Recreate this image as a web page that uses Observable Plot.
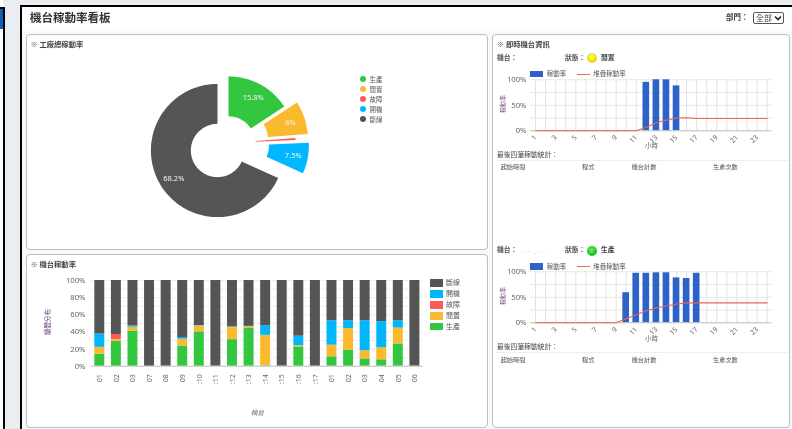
<!DOCTYPE html>
<html lang="zh-Hant"><head><meta charset="utf-8">
<script src="https://cdn.jsdelivr.net/npm/d3@7"></script>
<script src="https://cdn.jsdelivr.net/npm/@observablehq/plot@0.6"></script>
<style>
html,body{margin:0;padding:0;width:792px;height:429px;overflow:hidden;background:#fff}
#root{position:relative;width:792px;height:429px;overflow:hidden;background:#eaeef3;font-family:"Noto Sans CJK TC","Noto Sans",sans-serif;color:#333;filter:blur(.35px)}
#root>div{position:absolute}
.a{white-space:nowrap;line-height:1}
.card{box-sizing:border-box;background:#fff;border:1px solid #bdbdbd;border-radius:4px}
svg{overflow:visible;background:transparent!important}
.v{transform:translate(-50%,-50%) rotate(-90deg)}
</style></head><body><div id="root"></div>
<script>
// ---- data ----
const statuses = ["生產","閒置","故障","開機","斷線"];
const statusColors = ["#33c63f","#fbb92e","#fd5a5a","#00b7ff","#555555"];
const overallShare = [15.8, 8, 0.5, 7.5, 68.2];
const shareLabels = ["15.8%","8%","","7.5%","68.2%"];
const explodeX = [0.165,0.356,0.173,0.372,0];
const explodeY = [0.113,0.174,0.113,0.072,0];

const machines = ["01","02","03","07","08","09",":10",":11",":12",":13",":14",":15",":16",":17","01","02","03","04","05","06"];
const production = [14,29,41,0,0,23.5,40,0,31,44,0.5,0,22.5,0,11,18.5,8.5,7.5,26,0];
const idle       = [8,2,4.5,0,0,8,7,0,14.5,2,35.5,0,1.5,0,13.5,25.5,9.5,14,18.5,0];
const fault      = [0,6,0,0,0,0,0,0,0,0,0,0,0,0,0,0,0,0,0,0];
const standby    = [15.5,0,1.5,0,0,2,0.5,0,0.5,0.5,11,0,11,0,28.5,9,35,30.5,8.5,0];
const offline    = [62.5,63,53,100,100,66.5,52.5,100,54,53.5,53,100,65,100,47,47,47,48,47,100];

const hours = d3.range(1,25);
const hourTicks = [1,3,5,7,9,11,13,15,17,19,21,23];
const rateA = [0,0,0,0,0,0,0,0,0,0,0,95,100,100,88,0,0,0,0,0,0,0,0,0];
const cumA  = [0,0,0,0,0,0,0,0,0,0,0,7,15.7,21,25,25.5,24,24,24,24,24,24,24,24];
const rateB = [0,0,0,0,0,0,0,0,0,59,97,97,98,98,88,87,97,0,0,0,0,0,0,0];
const cumB  = [0,0,0,0,0,0,0,0,0,8,16,23.5,29,33,37,39,39,39,39,39,39,39,39,39];
const tableHeads = ["起始時間","程式","機台計數","生產次數"];

// ---- page helpers ----
const root = document.getElementById("root");
function box(css,cls){const e=document.createElement("div");if(cls)e.className=cls;e.style.cssText=css;root.appendChild(e);return e}
function txt(s,x,y,size,extra=""){const e=box(`left:${x}px;top:${y-size/2-.5}px;font-size:${size}px;${extra}`,"a");e.textContent=s;return e}
function vtxt(s,x,y,size,color){const e=box(`left:${x}px;top:${y}px;font-size:${size}px;color:${color}`,"a v");e.textContent=s}
function place(svg,x,y){svg.style.position="absolute";svg.style.left=x+"px";svg.style.top=y+"px";root.appendChild(svg)}

// frame
box("left:0;top:0;width:3px;height:429px;background:#fff");
box("left:3px;top:7px;width:2px;height:422px;background:#000");
box("left:0;top:7px;width:4px;height:1.5px;background:#000");
box("left:0;top:8.5px;width:3px;height:20.5px;background:#0f5fb8");
box("left:20px;top:5px;width:772px;height:424px;box-sizing:border-box;background:#fff;border-left:2px solid #000;border-top:2px solid #000");
box("left:22px;top:29px;width:770px;height:400px;background:#f8f9f9");
txt("機台稼動率看板",30,18,11.5,"font-weight:700;color:#333");
txt("部門：",726,17.5,7.5,"font-weight:700;color:#444");
const sel=document.createElement("select");
sel.style.cssText=`position:absolute;left:753px;top:12px;width:31px;height:12px;box-sizing:border-box;font-size:8px;line-height:1;padding:0 0 0 2px;border:1px solid #555;border-radius:2px;appearance:none;-webkit-appearance:none;color:#444;font-family:inherit;background:#fff url("data:image/svg+xml,%3Csvg xmlns='http://www.w3.org/2000/svg' width='8' height='6'%3E%3Cpath d='M1 1.5l3 3 3-3' fill='none' stroke='%23222' stroke-width='1.6'/%3E%3C/svg%3E") no-repeat right 1.5px center`;
sel.innerHTML="<option>全部</option>";root.appendChild(sel);

// cards
box("left:26px;top:34px;width:462px;height:216px","card");
box("left:26px;top:254px;width:462px;height:174px","card");
box("left:492px;top:34px;width:298px;height:394px","card");
const headCss="font-weight:700;color:#444";
txt("※ 工廠總稼動率",30.5,45,7.3,headCss);
txt("※ 機台稼動率",30.5,265.5,7.3,headCss);
txt("※ 即時機台資訊",497,45.5,7.3,headCss);

// ---- donut ----
const R=66.6, innerFrac=0.4, cx=217, cy=150, pw=300, ph=190, px0=90, py0=50;
let acc=0; const polys=[], labels=[];
overallShare.forEach((v,i)=>{
  const a0=acc/100*2*Math.PI; acc+=v; const a1=acc/100*2*Math.PI;
  const ox=explodeX[i], oy=explodeY[i], n=Math.max(2,Math.ceil(v*2));
  const arc=(r,t)=>({status:statuses[i],x:ox+r*Math.sin(t),y:oy+r*Math.cos(t)});
  for(let k=0;k<=n;k++)polys.push(arc(1,a0+(a1-a0)*k/n));
  for(let k=n;k>=0;k--)polys.push(arc(innerFrac,a0+(a1-a0)*k/n));
  const m=(a0+a1)/2;
  if(shareLabels[i])labels.push({t:shareLabels[i],x:ox+0.78*Math.sin(m),y:oy+0.78*Math.cos(m)});
});
const colorScale={domain:statuses,range:statusColors};
place(Plot.plot({width:pw,height:ph,margin:0,axis:null,
  x:{domain:[(px0-cx)/R,(px0+pw-cx)/R],range:[0,pw]},
  y:{domain:[(cy-py0-ph)/R,(cy-py0)/R],range:[ph,0]},
  color:colorScale,
  marks:[
    Plot.line(polys,{x:"x",y:"y",z:"status",fill:"status",stroke:"none"}),
    Plot.text(labels,{x:"x",y:"y",text:"t",fill:"#f4f4f4",fontSize:7.5,fontFamily:"Noto Sans"})
  ]}),px0,py0);
statuses.forEach((s,i)=>{
  const y=79.3+10*i;
  box(`left:360px;top:${y-3.2}px;width:6.4px;height:6.4px;border-radius:50%;background:${statusColors[i]}`,"a");
  txt(s,369.5,y,6.5,"color:#555");
});

// ---- stacked bars ----
const barRows=[];
[production,idle,fault,standby,offline].forEach((arr,si)=>arr.forEach((v,i)=>barRows.push({m:i,status:statuses[si],v})));
place(Plot.plot({width:455,height:125,marginLeft:65,marginRight:58.3,marginTop:10,marginBottom:29.3,
  x:{type:"band",domain:d3.range(machines.length),paddingInner:0.4,paddingOuter:0.2,round:false},
  y:{domain:[0,100]},color:colorScale,
  marks:[
    Plot.ruleY(d3.range(10,101,10),{stroke:"#efefef"}),
    Plot.barY(barRows,{x:"m",y:"v",fill:"status"}),
    Plot.ruleY([0],{stroke:"#bdbdbd"}),
    Plot.axisY({ticks:[0,20,40,60,80,100],tickFormat:d=>d+"%",tickSize:0,tickPadding:6,fontSize:7.7,fill:"#666",label:null}),
    Plot.axisX({tickFormat:i=>machines[i],tickRotate:-90,tickSize:0,tickPadding:8,fontSize:7,fill:"#666",label:null})
  ]}),26,270);
vtxt("總體分布",46.7,322,6.5,"#6b3f7d");
txt("機台",251,413,6.5,"color:#666;font-style:italic");
[...statuses].reverse().forEach((s,i)=>{
  const y=283+10.95*i, c=statusColors[statuses.length-1-i];
  box(`left:429.5px;top:${y-3.7}px;width:13.3px;height:7.4px;background:${c}`,"a");
  txt(s,446,y,7,"color:#555");
});

// ---- hourly charts ----
function hourly(rate,cum,top){
  const rows=hours.map((h,i)=>({h,r:rate[i],c:cum[i]}));
  place(Plot.plot({width:290,height:85,marginLeft:35,marginRight:13.3,marginTop:10.3,marginBottom:23.7,
    x:{type:"band",domain:hours,paddingInner:0.34,paddingOuter:0.17,round:false},y:{domain:[0,100]},
    marks:[
      Plot.ruleX(hours,{stroke:"#e2e2e2"}),
      Plot.ruleY([25,50,75,100],{stroke:"#e6e6e6"}),
      Plot.barY(rows.filter(d=>d.r>0),{x:"h",y:"r",fill:"#2d62c9"}),
      Plot.ruleY([0],{stroke:"#bdbdbd"}),
      Plot.lineY(rows,{x:"h",y:"c",stroke:"#e9674f",strokeWidth:1.1}),
      Plot.axisY({ticks:[0,50,100],tickFormat:d=>d+"%",tickSize:0,tickPadding:4,fontSize:7.7,fill:"#666",label:null}),
      Plot.axisX({ticks:hourTicks,tickRotate:-45,tickSize:0,tickPadding:5.5,fontSize:7,fill:"#666",label:null})
    ]}),495,top);
  const dy=top-69;
  box(`left:530px;top:${70.7+dy}px;width:13.3px;height:6.6px;background:#2d62c9`,"a");
  txt("稼動率",546.7,74+dy,6.5,"color:#555");
  box(`left:576.7px;top:${73.5+dy}px;width:13.3px;height:1.2px;background:#e9674f`,"a");
  txt("堆疊稼動率",593.3,74+dy,6.5,"color:#555");
  vtxt("稼動率",503,104+dy,6,"#6b3f7d");
  txt("小時",645,146+dy,6.5,"color:#666");
  txt("最後四筆稼動統計：",497,154.5+dy,6.8,"color:#444");
  box(`left:496px;top:${160+dy}px;width:292px;height:1px;background:#eee`,"a");
  [500.7,582,631.7,713].forEach((x,i)=>txt(tableHeads[i],x,168+dy,6.2,"color:#555"));
}
hourly(rateA,cumA,69);
hourly(rateB,cumB,261.4);

// status rows
function status(y,machine,label,ball){
  txt("機台：",497,y,6.8,"font-weight:700;color:#555");
  if(machine)txt(machine,520,y+.5,5,"color:#aaa;letter-spacing:.5px");
  txt("狀態：",565,y,6.8,"font-weight:700;color:#555");
  box(`left:587px;top:${y-4.5}px;width:10px;height:10px;border-radius:50%;background:radial-gradient(circle at 45% 40%,${ball})`,"a");
  txt(label,601,y,6.8,"font-weight:700;color:#444");
}
status(57.5,"","閒置","#ffff66,#e6d800 70%,#b5a800");
status(250,"- - - -_- - -","生產","#66ee66,#12b81c 70%,#0a8a12");
</script></body></html>
